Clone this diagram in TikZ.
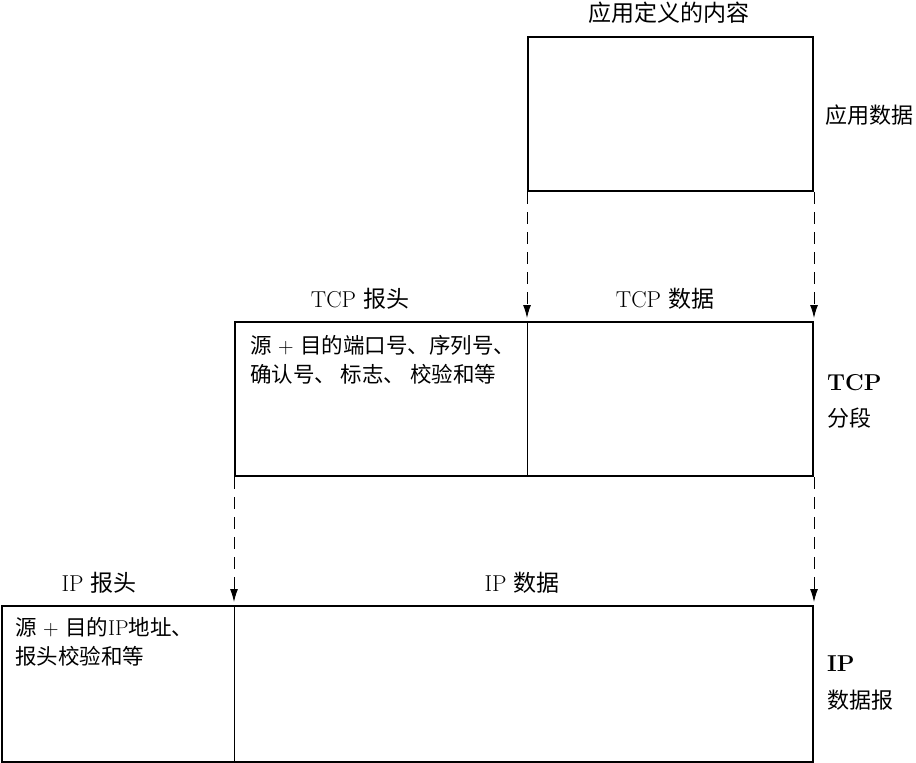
\documentclass[tikz,border=0pt]{standalone}
\usepackage{fontspec}
\newfontfamily\cjk{Noto Sans CJK SC}
\usetikzlibrary{arrows.meta}
\newcommand\zhtxt[1]{{\cjk #1}}
\tikzset{
  pbox/.style={draw, line width=2pt, rectangle, inner sep=0pt, anchor=north west},
  divline/.style={line width=1pt},
  dasharrow/.style={line width=1pt, dash pattern=on 12pt off 8pt, -{Latex[length=13pt,width=8pt]}, shorten >=3pt},
  lbl/.style={font=\fontsize{23}{26}\selectfont, inner sep=0pt},
  side/.style={font=\fontsize{22}{26}\selectfont, inner sep=0pt, anchor=west},
  sidebold/.style={side, font=\fontsize{23}{26}\selectfont\bfseries},
  intext/.style={font=\fontsize{21.5}{29}\selectfont, inner sep=0pt, anchor=north west, align=left},
}
\begin{document}
\begin{tikzpicture}[x=1pt,y=-1pt]
\useasboundingbox (0,0) rectangle (916,763);
% boxes
\node[pbox, minimum width=285pt, minimum height=154pt] (app) at (527,36) {};
\node[pbox, minimum width=578pt, minimum height=154pt] (tcp) at (234,321) {};
\node[pbox, minimum width=811pt, minimum height=156pt] (ip) at (1,605) {};
% dividers
\draw[divline] (app.south west |- tcp.north) -- (app.south west |- tcp.south);
\draw[divline] (tcp.south west |- ip.north) -- (tcp.south west |- ip.south);
% dashed arrows
\draw[dasharrow] (app.south west) -- (app.south west |- tcp.north);
\draw[dasharrow] (app.south east) -- (app.south east |- tcp.north);
\draw[dasharrow] (tcp.south west) -- (tcp.south west |- ip.north);
\draw[dasharrow] (tcp.south east) -- (tcp.south east |- ip.north);
% labels
\node[lbl] (appdef) at (669,13) {\zhtxt{应用定义的内容}};
\node[side] (appdata) at (825,115) {\zhtxt{应用数据}};
\node[lbl] (tcphdr) at (360,299) {TCP \zhtxt{报头}};
\node[lbl] (tcpdata) at (665,299) {TCP \zhtxt{数据}};
\node[lbl] (iphdr) at (99,583) {IP \zhtxt{报头}};
\node[lbl] (ipdata) at (522,583) {IP \zhtxt{数据}};
\node[sidebold] (tcpname) at (827,383) {TCP};
\node[side] (tcpseg) at (827,418) {\zhtxt{分段}};
\node[sidebold] (ipname) at (827,664) {IP};
\node[side] (ipdg) at (827,700) {\zhtxt{数据报}};
% box contents
\node[intext] (tcptext) at (250,335) {\zhtxt{源} + \zhtxt{目的端口号、序列号、}\\\zhtxt{确认号、 标志、 校验和等}};
\node[intext] (iptext) at (15,617) {\zhtxt{源} + \zhtxt{目的}IP\zhtxt{地址、}\\\zhtxt{报头校验和等}};
\end{tikzpicture}
\end{document}
